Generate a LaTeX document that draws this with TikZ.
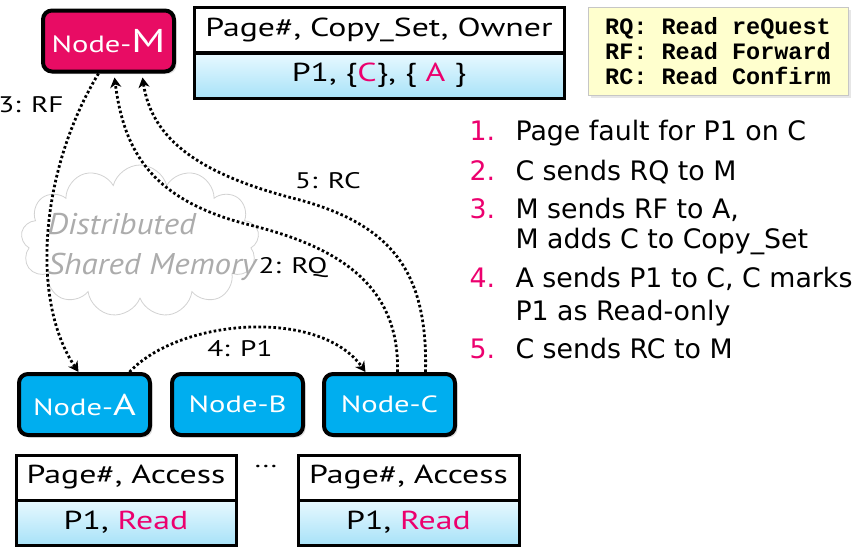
\documentclass[tikz,border=0pt]{standalone}
\usepackage{fontspec}
\setmainfont[FakeStretch=1.3]{PT Sans}
\newfontfamily\cloudfont[FakeStretch=1.1]{PT Sans}
\newfontfamily\listfont{DejaVu Sans}
\setmonofont{Liberation Mono}
\usetikzlibrary{arrows.meta,shapes.symbols,shadows}

\definecolor{pinkM}{RGB}{232,12,100}
\definecolor{cyanN}{RGB}{0,174,239}
\definecolor{rowtop}{RGB}{232,249,255}
\definecolor{rowbot}{RGB}{168,226,248}
\definecolor{legendbg}{RGB}{255,255,206}
\definecolor{hilite}{RGB}{236,0,110}

\begin{document}
\begin{tikzpicture}[x=1pt,y=-1pt,
  machine/.style={draw=black,line width=4pt,rounded corners=9pt,text=white,
    minimum width=131pt,minimum height=61pt,inner sep=0pt,
    font=\fontsize{23.5}{24}\selectfont,drop shadow={opacity=0.25}},
  headcell/.style={draw=black,line width=3pt,fill=white,inner sep=0pt,
    minimum height=45pt,font=\fontsize{26}{28}\selectfont},
  rowcell/.style={draw=black,line width=3pt,top color=rowtop,bottom color=rowbot,
    inner sep=0pt,minimum height=45pt,font=\fontsize{26}{28}\selectfont},
  msg/.style={line width=2.8pt,dash pattern=on 2.6pt off 2.4pt,
    -{Stealth[length=10pt,width=11pt,inset=3pt]}},
  msglabel/.style={font=\fontsize{22.5}{24}\selectfont},
  item/.style={anchor=base west,font=\listfont\fontsize{26.8}{30}\selectfont},
  itemnum/.style={item,text=hilite}
]
  \useasboundingbox (0,0) rectangle (859,555);

  % Cloud
  \node[cloud,cloud puffs=13,aspect=1.55,draw=gray!35,fill=white,line width=0.8pt,
    minimum width=238pt,minimum height=152pt,inner sep=0pt] (dsm) at (140,241) {};
  \node[text=gray!65,font=\cloudfont\itshape\fontsize{30}{40}\selectfont,align=left]
    (dsmtext) at (152,247) {Distributed\\Shared Memory};

  % Manager node and its table
  \node[machine,fill=pinkM] (nodeM) at (108.5,41)
    {Node-{\fontsize{33}{33}\selectfont M}};
  \node[headcell,minimum width=370pt] (mhead) at (379,30) {Page\#, Copy\_Set, Owner};
  \node[rowcell,minimum width=370pt] (mrow) at (379,75.5)
    {P1, \{\textcolor{hilite}{C}\}, \{ \textcolor{hilite}{A} \}};

  % Legend
  \node[draw=gray!45,fill=legendbg,minimum width=260pt,minimum height=88pt,
    drop shadow={opacity=0.2},align=left,font=\ttfamily\bfseries\fontsize{23.5}{25}\selectfont]
    (legend) at (718,51) {RQ: Read reQuest\\RF: Read Forward\\RC: Read Confirm};

  % Worker nodes
  \node[machine,fill=cyanN] (nodeA) at (84.5,404.5)
    {Node-{\fontsize{30}{30}\selectfont A}};
  \node[machine,fill=cyanN] (nodeB) at (237.5,404.5) {Node-B};
  \node[machine,fill=cyanN] (nodeC) at (389.5,404.5) {Node-C};

  % Local tables
  \node[headcell,minimum width=220pt] (ahead) at (126,477.5) {Page\#, Access};
  \node[rowcell,minimum width=220pt] (arow) at (126,522.5)
    {P1, \textcolor{hilite}{Read}};
  \node[font=\fontsize{22}{24}\selectfont] (dots) at (266,466) {...};
  \node[headcell,minimum width=221pt] (chead) at (408.5,477.5) {Page\#, Access};
  \node[rowcell,minimum width=221pt] (crow) at (408.5,522.5)
    {P1, \textcolor{hilite}{Read}};

  % Messages
  \draw[msg] ([xshift=-10pt]nodeM.south) .. controls (40,170) and (30,300)
    .. ([xshift=-6pt]nodeA.north);
  \draw[msg] ([xshift=8pt]nodeC.north) .. controls (400,280) and (330,245)
    .. (250,225) .. controls (150,200) and (124,150) .. ([xshift=6pt,yshift=-4pt]nodeM.south);
  \draw[msg] ([xshift=36pt]nodeC.north) .. controls (428,270) and (390,225)
    .. (300,200) .. controls (200,175) and (152,140) .. ([xshift=34pt,yshift=-4pt]nodeM.south);
  \draw[msg] ([xshift=45pt]nodeA.north) .. controls (180,318) and (320,308)
    .. ([xshift=-24pt]nodeC.north);

  \node[msglabel] (lblRF) at (31,105) {3: RF};
  \node[msglabel] (lblRC) at (328,181) {5: RC};
  \node[msglabel] (lblRQ) at (293,268) {2: RQ};
  \node[msglabel] (lblP1) at (240,349) {4: P1};

  % Steps
  \node[itemnum] (n1) at (466,140) {1.};
  \node[item] (s1) at (512,140) {Page fault for P1 on C};
  \node[itemnum] (n2) at (466,180) {2.};
  \node[item] (s2) at (512,180) {C sends RQ to M};
  \node[itemnum] (n3) at (466,218) {3.};
  \node[item] (s3) at (512,218) {M sends RF to A,};
  \node[item] (s3b) at (512,248) {M adds C to Copy\_Set};
  \node[itemnum] (n4) at (466,287) {4.};
  \node[item] (s4) at (512,287) {A sends P1 to C, C marks};
  \node[item] (s4b) at (512,320) {P1 as Read-only};
  \node[itemnum] (n5) at (466,358) {5.};
  \node[item] (s5) at (512,358) {C sends RC to M};
\end{tikzpicture}
\end{document}
